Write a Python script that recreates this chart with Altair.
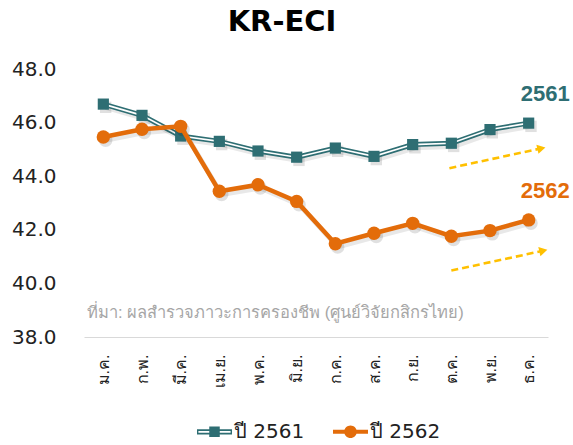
import altair as alt
import pandas as pd

months = ["ม.ค.", "ก.พ.", "มี.ค.", "เม.ย.", "พ.ค.", "มิ.ย.", "ก.ค.", "ส.ค.", "ก.ย.", "ต.ค.", "พ.ย.", "ธ.ค."]
v2561 = [46.69, 46.27, 45.50, 45.30, 44.94, 44.71, 45.05, 44.74, 45.18, 45.23, 45.74, 45.98]
v2562 = [45.46, 45.75, 45.86, 43.44, 43.68, 43.06, 41.48, 41.87, 42.24, 41.76, 41.97, 42.37]
series = ["ปี 2561", "ปี 2562"]
y_ticks = [38, 40, 42, 44, 46, 48]

# annotation data (in data units: month index / index value)
arrow_x = [8.95, 9.0]
arrow_y = [44.30, 40.48]
arrow_x2 = [11.33, 11.38]
arrow_y2 = [45.04, 41.22]
tag_text = ["2561", "2562"]
tag_x = [12.06, 12.06]
tag_y = [47.07, 43.46]
source_text = "ที่มา: ผลสำรวจภาวะการครองชีพ (ศูนย์วิจัยกสิกรไทย)"
source_x = -0.42
source_y = 38.9

TEAL = "#2E6E73"
ORANGE = "#E36C0A"
YELLOW = "#FFC000"
FONT = "Liberation Sans"
FONT2 = "DejaVu Sans"

idx = list(range(len(months)))
d61 = pd.DataFrame({"i": idx, "v": v2561, "s": series[0]})
d62 = pd.DataFrame({"i": idx, "v": v2562, "s": series[1]})
arrows = pd.DataFrame({"x": arrow_x, "y": arrow_y, "x2": arrow_x2, "y2": arrow_y2})
tags = pd.DataFrame({"t": tag_text, "x": tag_x, "y": tag_y, "c": [TEAL, ORANGE]})
src = pd.DataFrame({"t": [source_text], "x": [source_x], "y": [source_y]})

label_expr = "[" + ",".join("'" + m + "'" for m in months) + "][datum.value]"

xscale = alt.Scale(domain=[-0.5, 11.5], nice=False, zero=False)
yscale = alt.Scale(domain=[38, 48], nice=False, zero=False)
xaxis = alt.Axis(values=idx, labelExpr=label_expr, labelAngle=-90, labelFontSize=16,
                 labelFont=FONT, labelColor="#222222", labelPadding=17, ticks=False,
                 domainColor="#D9D9D9", domainWidth=1, grid=False, title=None)
yaxis = alt.Axis(values=y_ticks, format=".1f", labelFontSize=20, labelFont=FONT2,
                 labelColor="#222222", labelPadding=28, ticks=False, domain=False,
                 grid=False, title=None)

X = alt.X("i:Q", scale=xscale, axis=xaxis)
Y = alt.Y("v:Q", scale=yscale, axis=yaxis)
SX = alt.X("sx:Q", scale=xscale, axis=xaxis)
SY = alt.Y("sy:Q", scale=yscale, axis=yaxis)


def shadow_line(df, width):
    return alt.Chart(df).transform_calculate(sx="datum.i + 0.06", sy="datum.v - 0.12").mark_line(
        color="#000000", opacity=0.09, strokeWidth=width).encode(x=SX, y=SY)


def shadow_pts(df, size, shape):
    return alt.Chart(df).transform_calculate(sx="datum.i + 0.06", sy="datum.v - 0.12").mark_point(
        shape=shape, filled=True, size=size, color="#000000", opacity=0.12).encode(x=SX, y=SY)


teal_outer = alt.Chart(d61).mark_line(color=TEAL, strokeWidth=5).encode(x=X, y=Y)
teal_inner = alt.Chart(d61).mark_line(color="white", strokeWidth=1.6).encode(x=X, y=Y)
teal_pts = alt.Chart(d61).mark_point(shape="square", filled=True, size=125, color=TEAL,
                                     opacity=1).encode(x=X, y=Y)
orange_line = alt.Chart(d62).mark_line(color=ORANGE, strokeWidth=4.5).encode(x=X, y=Y)
orange_pts = alt.Chart(d62).mark_point(shape="circle", filled=True, size=180, color=ORANGE,
                                       opacity=1).encode(x=X, y=Y)

arrow_lines = alt.Chart(arrows).mark_rule(color=YELLOW, strokeWidth=2.6, strokeDash=[7, 4]).encode(
    x=alt.X("x:Q", scale=xscale, axis=xaxis), y=alt.Y("y:Q", scale=yscale, axis=yaxis),
    x2="x2:Q", y2="y2:Q")
arrow_heads = alt.Chart(arrows).mark_point(shape="triangle-right", filled=True, size=90, color=YELLOW,
                                           opacity=1, angle=347).encode(
    x=alt.X("x2:Q", scale=xscale, axis=xaxis), y=alt.Y("y2:Q", scale=yscale, axis=yaxis))

tag_marks = alt.Chart(tags).mark_text(font=FONT, fontSize=22, fontWeight="bold",
                                      align="right", baseline="middle").encode(
    x=alt.X("x:Q", scale=xscale, axis=xaxis), y=alt.Y("y:Q", scale=yscale, axis=yaxis),
    text="t:N", color=alt.Color("c:N", scale=None))

src_mark = alt.Chart(src).mark_text(font=FONT, fontSize=16.5, color="#A6A6A6", align="left",
                                    baseline="middle").encode(
    x=alt.X("x:Q", scale=xscale, axis=xaxis), y=alt.Y("y:Q", scale=yscale, axis=yaxis), text="t:N")

teal_sym = ("M-1,-0.15 L1,-0.15 L1,0.15 L-1,0.15 Z "
            "M-0.92,-0.05 L-0.92,0.05 L0.92,0.05 L0.92,-0.05 Z "
            "M-0.3,-0.3 L0.3,-0.3 L0.3,0.3 L-0.3,0.3 Z")
orange_sym = ("M-1,-0.11 L1,-0.11 L1,0.11 L-1,0.11 Z "
              "M-0.36,0 A0.36,0.36 0 1,1 0.36,0 A0.36,0.36 0 1,1 -0.36,0 Z")

legend_layer = alt.Chart(pd.concat([d61, d62])).transform_filter("false").mark_point(
    filled=True, opacity=1).encode(
    x=X, y=Y,
    color=alt.Color("s:N", scale=alt.Scale(domain=series, range=[TEAL, ORANGE]),
                    legend=alt.Legend(title=None, orient="none", direction="horizontal",
                                      legendX=113, legendY=345,
                                      labelFontSize=20, labelFont=FONT2, labelColor="#222222",
                                      symbolSize=1225, symbolStrokeWidth=0, labelOffset=2,
                                      columnPadding=28)),
    shape=alt.Shape("s:N", scale=alt.Scale(domain=series, range=[teal_sym, orange_sym])),
)

chart = alt.layer(
    arrow_lines, arrow_heads,
    shadow_line(d61, 5), shadow_pts(d61, 130, "square"),
    teal_outer, teal_inner, teal_pts,
    shadow_line(d62, 5), shadow_pts(d62, 185, "circle"),
    orange_line, orange_pts,
    tag_marks, src_mark, legend_layer,
).properties(
    width=464, height=268,
    title=alt.Title("KR-ECI", fontSize=29, fontWeight="bold", font="DejaVu Sans", color="#000000",
                    anchor="middle", dx=-34, offset=22),
    autosize=alt.AutoSizeParams(type="none"),
    padding={"left": 84, "top": 69, "right": 25, "bottom": 108},
).configure(background="white").configure_view(stroke=None)

chart.save("out.html", embed_options={"renderer": "svg", "actions": False})
